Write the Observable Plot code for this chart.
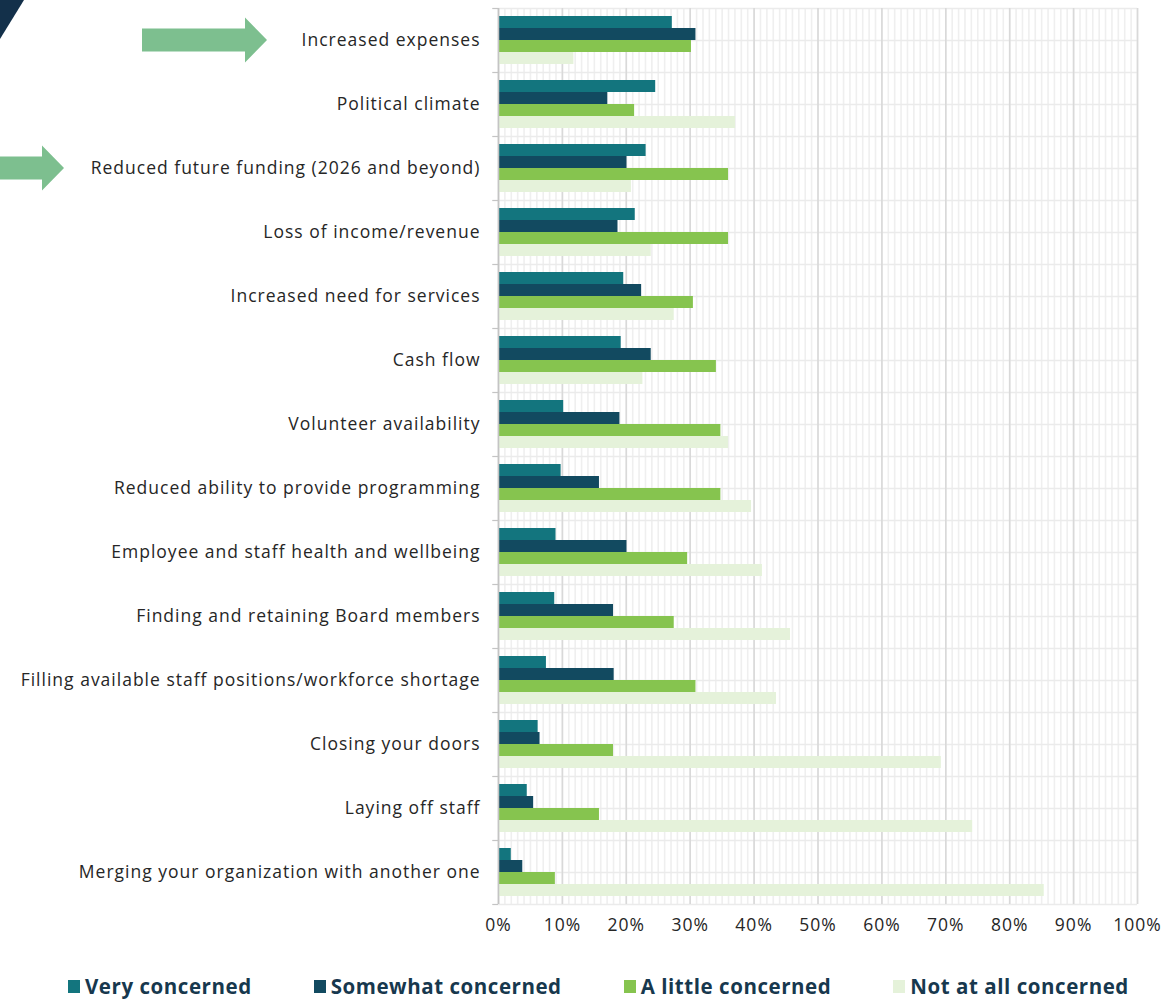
<!DOCTYPE html>
<html>
<head>
<meta charset="utf-8">
<script src="https://cdn.jsdelivr.net/npm/d3@7"></script>
<script src="https://cdn.jsdelivr.net/npm/@observablehq/plot@0.6"></script>
<style>
  html, body { margin: 0; padding: 0; background: #fff; }
  #wrap { position: relative; width: 1166px; height: 1000px; }
  #corner { position: absolute; left: 0; top: 0; width: 24px; height: 40px; background: #13304a;
            clip-path: polygon(0 0, 24px 0, 0 39px); }
  #legend { position: absolute; left: 68px; top: 975px; display: flex; gap: 62px;
            font-family: "Open Sans", sans-serif; font-weight: 700; font-size: 20.5px; letter-spacing: 0.55px; color: #17384e; }
  #legend .item { display: flex; align-items: center; white-space: nowrap; line-height: 22px; }
  #legend .sw { width: 12px; height: 13px; margin-right: 5px; display: inline-block; }
  svg text { letter-spacing: 1px; }
</style>
</head>
<body>
<div id="wrap">
  <div id="chart"></div>
  <div id="corner"></div>
  <div id="legend"></div>
</div>
<script>
const categories = [
  "Increased expenses",
  "Political climate",
  "Reduced future funding (2026 and beyond)",
  "Loss of income/revenue",
  "Increased need for services",
  "Cash flow",
  "Volunteer availability",
  "Reduced ability to provide programming",
  "Employee and staff health and wellbeing",
  "Finding and retaining Board members",
  "Filling available staff positions/workforce shortage",
  "Closing your doors",
  "Laying off staff",
  "Merging your organization with another one"
];
const seriesNames = ["Very concerned", "Somewhat concerned", "A little concerned", "Not at all concerned"];
const veryConcerned     = [27.2, 24.6, 23.1, 21.4, 19.6, 19.2, 10.2,  9.8,  9.0,  8.8,  7.5,  6.2,  4.5,  2.0];
const somewhatConcerned = [30.9, 17.1, 20.1, 18.7, 22.4, 23.9, 19.0, 15.8, 20.1, 18.0, 18.1,  6.5,  5.5,  3.8];
const littleConcerned   = [30.2, 21.3, 36.0, 36.0, 30.5, 34.1, 34.8, 34.8, 29.6, 27.5, 30.9, 18.0, 15.8,  8.9];
const notConcerned      = [11.8, 37.1, 20.8, 23.9, 27.5, 22.6, 36.0, 39.6, 41.3, 45.7, 43.5, 69.3, 74.2, 85.4];
const xTicks = [0, 10, 20, 30, 40, 50, 60, 70, 80, 90, 100];
const minorTicks = d3.range(0, 101, 1);
const highlighted = ["Increased expenses", "Reduced future funding (2026 and beyond)"];

const colors = ["#13757e", "#124a60", "#86c44f", "#e5f2da"];
const seriesValues = [veryConcerned, somewhatConcerned, littleConcerned, notConcerned];

// arrow annotation layout (pixels)
const arrowTips = [267, 64];
const arrowTails = [142, -10];

const tables = seriesValues.map(vals => categories.map((c, i) => ({category: c, value: vals[i]})));

const band = 64;
const barH = 12;
const pad = 8;

function arrowsMark(index, scales) {
  const y = scales.y;
  const bw = y.bandwidth ? y.bandwidth() : 0;
  const ns = "http://www.w3.org/2000/svg";
  const g = document.createElementNS(ns, "g");
  highlighted.forEach((cat, k) => {
    const cy = y(cat) + bw / 2;
    const tip = arrowTips[k], tail = arrowTails[k];
    const headLen = 22, sh = 11.5, hh = 22.5;
    const base = tip - headLen;
    const pts = [[tail, cy - sh], [base, cy - sh], [base, cy - hh], [tip, cy], [base, cy + hh], [base, cy + sh], [tail, cy + sh]];
    const p = document.createElementNS(ns, "polygon");
    p.setAttribute("points", pts.map(d => d.join(",")).join(" "));
    p.setAttribute("fill", "#7dbf8f");
    g.appendChild(p);
  });
  return g;
}

const last = categories[categories.length - 1];

const barMarks = tables.map((t, s) => Plot.barX(t, {
  y: "category", x: "value", fill: colors[s],
  insetTop: pad + s * barH, insetBottom: band - pad - (s + 1) * barH
}));

const chart = Plot.plot({
  width: 1166,
  height: 944,
  marginLeft: 498,
  marginRight: 29,
  marginTop: 8,
  marginBottom: 40,
  style: {fontFamily: "'Open Sans', sans-serif", fontSize: "17.5px", color: "#262626", background: "#fff"},
  x: {domain: [0, 100], ticks: xTicks, tickFormat: d => d + "%", tickSize: 0, tickPadding: 14, label: null},
  y: {domain: categories, padding: 0, tickSize: 0, tickPadding: 18, label: null},
  marks: [
    Plot.ruleX(minorTicks, {stroke: "#efefef", strokeWidth: 1.6}),
    Plot.ruleY(categories, {stroke: "#ebebeb", strokeWidth: 1.5}),
    Plot.ruleY(categories, {stroke: "#ebebeb", strokeWidth: 1.5, dy: -band / 2}),
    Plot.ruleY([last], {stroke: "#ebebeb", strokeWidth: 1.5, dy: band / 2}),
    Plot.ruleX(xTicks, {stroke: "#d9d9d9", strokeWidth: 1.6}),
    ...barMarks,
    Plot.ruleX([0], {stroke: "#c4c4c4", strokeWidth: 1.5}),
    Plot.ruleY(categories, {x1: -0.9, x2: 0, stroke: "#c4c4c4", strokeWidth: 1.2, dy: -band / 2}),
    Plot.ruleY([last], {x1: -0.9, x2: 0, stroke: "#c4c4c4", strokeWidth: 1.2, dy: band / 2}),
    arrowsMark
  ]
});
document.getElementById("chart").appendChild(chart);

const legend = document.getElementById("legend");
seriesNames.forEach((name, i) => {
  const item = document.createElement("div");
  item.className = "item";
  const sw = document.createElement("span");
  sw.className = "sw";
  sw.style.background = colors[i];
  item.appendChild(sw);
  item.appendChild(document.createTextNode(name));
  legend.appendChild(item);
});
</script>
</body>
</html>
